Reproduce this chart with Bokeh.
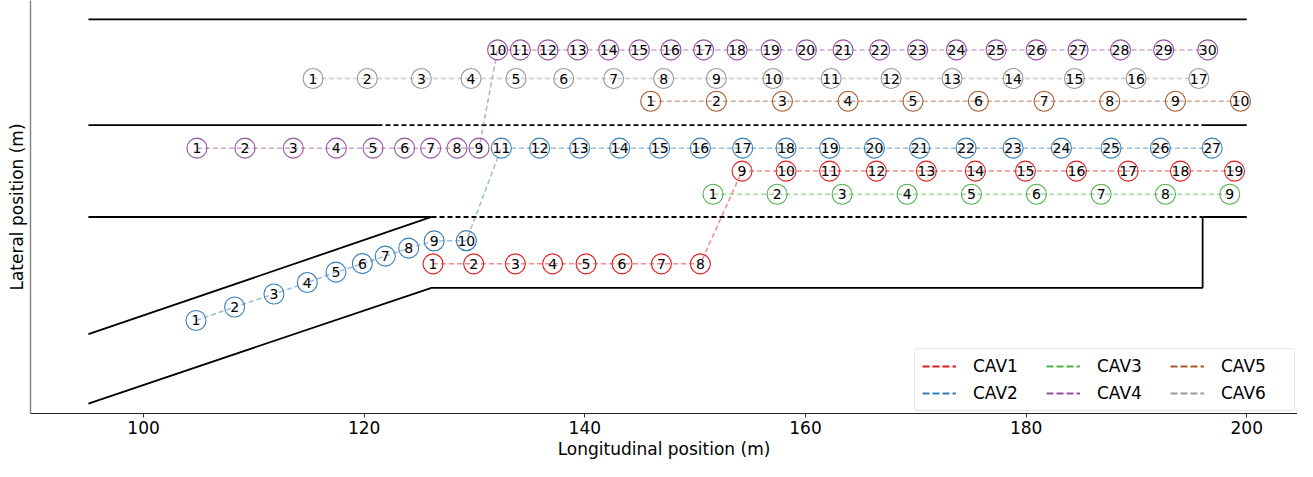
from bokeh.plotting import figure
from bokeh.models import Range1d, FixedTicker, Legend, LegendItem, ColumnDataSource
from bokeh.core.properties import value
from bokeh.embed import file_html
from bokeh.resources import INLINE

# ---------------- data ----------------
vehicles = ["CAV1", "CAV2", "CAV3", "CAV4", "CAV5", "CAV6"]
colors = ["#e41a1c", "#377eb8", "#4daf4a", "#984ea3", "#a65628", "#999999"]

cav1_x = [126.24, 129.92, 133.70, 137.08, 140.11, 143.37, 146.94, 150.47,
          154.25, 158.24, 162.19, 166.43, 170.96, 175.40, 179.94, 184.56, 189.25, 193.99, 198.89]
cav1_y = [5.6] * 8 + [9.32] * 11

cav2_x = [104.75, 108.25, 111.82, 114.84, 117.44, 119.83, 121.91, 124.03, 126.34, 129.26,
          132.43, 135.90, 139.53, 143.16, 146.78, 150.47, 154.31, 158.24, 162.19, 166.25,
          170.35, 174.56, 178.82, 183.20, 187.70, 192.17, 196.86]
cav2_y = [3.33, 3.87, 4.39, 4.85, 5.27, 5.61, 5.91, 6.23, 6.52, 6.53] + [10.24] * 17

cav3_x = [151.62, 157.43, 163.32, 169.21, 175.04, 180.93, 186.80, 192.63, 198.46]
cav3_y = [8.39] * 9

cav4_x = [104.84, 109.19, 113.57, 117.47, 120.80, 123.66, 126.02, 128.41, 130.41,
          132.09, 134.15, 136.66, 139.35, 142.16, 144.94, 147.81, 150.77, 153.80, 156.88,
          160.08, 163.41, 166.73, 170.17, 173.68, 177.28, 180.91, 184.71, 188.55, 192.47, 196.46]
cav4_y = [10.24] * 9 + [14.18] * 21

cav5_x = [145.97, 151.92, 157.91, 163.86, 169.75, 175.67, 181.63, 187.58, 193.53, 199.43]
cav5_y = [12.12] * 10

cav6_x = [115.36, 120.28, 125.18, 129.68, 133.76, 138.08, 142.61, 147.14, 151.92, 157.06,
          162.32, 167.76, 173.29, 178.82, 184.38, 189.97, 195.65]
cav6_y = [13.03] * 17

xs_all = [cav1_x, cav2_x, cav3_x, cav4_x, cav5_x, cav6_x]
ys_all = [cav1_y, cav2_y, cav3_y, cav4_y, cav5_y, cav6_y]

# road geometry
top_x, top_y = [95, 200], [15.4, 15.4]
l2_solid1_x, l2_solid1_y = [95, 121.2], [11.16, 11.16]
l2_dash_x, l2_dash_y = [121.2, 195.9], [11.16, 11.16]
l2_solid2_x, l2_solid2_y = [195.9, 200], [11.16, 11.16]
l3_solid1_x, l3_solid1_y = [95, 126.1], [7.48, 7.48]
l3_dash_x, l3_dash_y = [126.1, 196.0], [7.48, 7.48]
l3_solid2_x, l3_solid2_y = [196.0, 200], [7.48, 7.48]
ramp_up_x, ramp_up_y = [95, 126.1], [2.78, 7.48]
ramp_low_x, ramp_low_y = [95, 126.1, 196.0, 196.0], [0.0, 4.64, 4.64, 7.48]

x_ticks = [100, 120, 140, 160, 180, 200]
NAN = float("nan")

# ---------------- figure ----------------
p = figure(width=1297, height=461, output_backend="svg", toolbar_location=None,
           x_range=Range1d(89.75, 204.6), y_range=Range1d(-0.4, 16.16),
           min_border_left=30, min_border_right=0, min_border_top=0, min_border_bottom=0)
p.outline_line_color = None
p.grid.visible = False
p.background_fill_color = "white"

road_w = 1.8
for (rx, ry) in [(top_x, top_y), (l2_solid1_x, l2_solid1_y), (l2_solid2_x, l2_solid2_y),
                 (l3_solid1_x, l3_solid1_y), (l3_solid2_x, l3_solid2_y),
                 (ramp_up_x, ramp_up_y), (ramp_low_x, ramp_low_y)]:
    p.line(rx, ry, line_color="black", line_width=road_w)
for (rx, ry) in [(l2_dash_x, l2_dash_y), (l3_dash_x, l3_dash_y)]:
    p.line(rx, ry, line_color="black", line_width=road_w, line_dash="5 3")

legend_items = []
for name, col, xs, ys in zip(vehicles, colors, xs_all, ys_all):
    labels = [str(i + 1) for i in range(len(xs))]
    src = ColumnDataSource(dict(x=xs, y=ys, t=labels))
    p.line("x", "y", source=src, line_color=col, line_alpha=0.5, line_width=1.5, line_dash="5 3")
    p.scatter("x", "y", source=src, marker="circle", size=20, fill_color=None,
              line_color=col, line_width=1.1)
    p.text("x", "y", text="t", source=src, text_align="center", text_baseline="middle",
           text_font=value("DejaVu Sans"), text_font_size="14px", text_color="black")
    r = p.line([NAN, NAN], [NAN, NAN], line_color=col, line_width=2.2, line_dash="7 3")
    legend_items.append(LegendItem(label=name, renderers=[r]))

legend = Legend(items=legend_items, location="bottom_right", ncols=3)
legend.label_text_font = "DejaVu Sans"
legend.label_text_font_size = "17px"
legend.label_text_color = "black"
legend.glyph_width = 34
legend.glyph_height = 20
legend.label_height = 20
legend.label_standoff = 17
legend.label_width = 66
legend.spacing = 7
legend.padding = 7
legend.margin = 2
legend.border_line_color = "#cccccc"
legend.border_line_width = 1
legend.background_fill_alpha = 0.8
try:
    legend.border_radius = 4
except Exception:
    pass
p.add_layout(legend)

# axes
p.xaxis.ticker = FixedTicker(ticks=x_ticks)
p.xaxis.minor_tick_line_color = None
p.xaxis.major_tick_out = 4
p.xaxis.major_tick_in = 0
p.xaxis.major_tick_line_color = "#333333"
p.xaxis.axis_line_color = "#222222"
p.xaxis.axis_line_width = 1
p.xaxis.major_label_text_font = "DejaVu Sans"
p.xaxis.major_label_text_font_size = "17px"
p.xaxis.major_label_text_color = "black"
p.xaxis.major_label_standoff = 3
p.xaxis.axis_label = "Longitudinal position (m)"
p.xaxis.axis_label_text_font = "DejaVu Sans"
p.xaxis.axis_label_text_font_size = "17px"
p.xaxis.axis_label_text_font_style = "normal"
p.xaxis.axis_label_text_color = "black"
p.xaxis.axis_label_standoff = 2

p.yaxis.ticker = FixedTicker(ticks=[])
p.yaxis.minor_tick_line_color = None
p.yaxis.major_tick_out = 0
p.yaxis.major_tick_in = 0
p.yaxis.major_label_text_font_size = "0px"
p.yaxis.major_label_standoff = 0
p.yaxis.axis_line_color = "#808080"
p.yaxis.axis_line_width = 1.4
p.yaxis.axis_label = "Lateral position (m)"
p.yaxis.axis_label_text_font = "DejaVu Sans"
p.yaxis.axis_label_text_font_size = "17px"
p.yaxis.axis_label_text_font_style = "normal"
p.yaxis.axis_label_text_color = "black"
p.yaxis.axis_label_standoff = 4

open("out.html", "w").write(file_html(p, INLINE))
